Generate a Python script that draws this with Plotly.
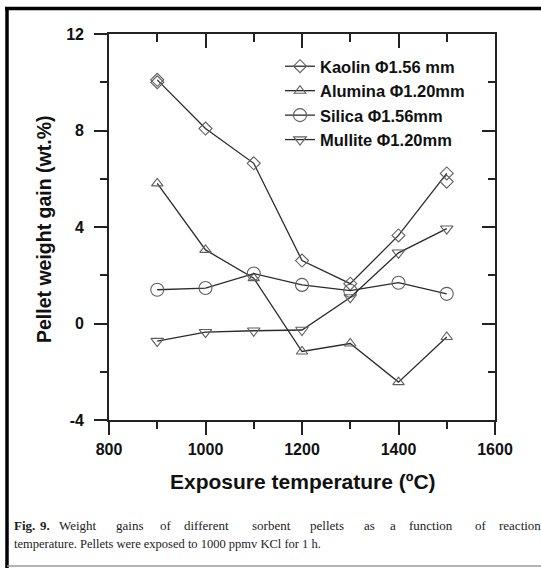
import plotly.graph_objects as go

# ---- data ----
temps = [900, 1000, 1100, 1200, 1300, 1400, 1500]
kaolin = [10.10, 8.08, 6.64, 2.61, 1.65, 3.65, 6.22]
kaolin_rep_t = [900, 1500]
kaolin_rep = [10.0, 5.88]
alumina = [5.81, 3.05, 1.88, -1.16, -0.83, -2.43, -0.56]
silica = [1.40, 1.47, 2.07, 1.60, 1.36, 1.69, 1.23]
mullite = [-0.73, -0.36, -0.30, -0.27, 1.08, 2.93, 3.93]

names = ["Kaolin \u03a61.56 mm", "Alumina \u03a61.20mm", "Silica \u03a61.56mm", "Mullite \u03a61.20mm"]
symbols = ["diamond-open", "triangle-up-open", "circle-open", "triangle-down-open"]
msizes = [10, 10, 13, 11]
series = [kaolin, alumina, silica, mullite]

x_ticks = [800, 1000, 1200, 1400, 1600]
y_ticks = [-4, 0, 4, 8, 12]

caption_line1 = ["Fig.", "9.", "Weight", "gains", "of", "different", "sorbent",
                 "pellets", "as", "a", "function", "of", "reaction"]
caption_line2 = "temperature. Pellets were exposed to 1000 ppmv KCl for 1 h."

# ---- geometry (pixels) ----
W, H = 541, 568
L, R, T, B = 109, 495, 34, 420

def px_x(p):
    return (p - L) / (R - L)

def px_y(p):
    return (B - p) / (B - T)

FONT = "Liberation Sans, Arial, sans-serif"
SERIF = "Liberation Serif, Times New Roman, serif"
LINEC = "#2b2b2b"
MARKC = "#5f5f5f"

fig = go.Figure()
for nm, sy, ms, vals in zip(names, symbols, msizes, series):
    fig.add_trace(go.Scatter(
        x=temps, y=vals, name=nm, mode="lines+markers",
        line=dict(color=LINEC, width=1.3),
        marker=dict(symbol=sy, size=ms, color=MARKC, line=dict(width=1.1, color=MARKC)),
    ))

# repeated kaolin measurements (on the mirrored axes so they get drawn)
fig.add_trace(go.Scatter(
    x=kaolin_rep_t, y=kaolin_rep, mode="markers", showlegend=False,
    xaxis="x2", yaxis="y2", hoverinfo="skip",
    marker=dict(symbol="diamond-open", size=10, color=MARKC, line=dict(width=1.1, color=MARKC)),
))

axis_common = dict(showgrid=False, zeroline=False, showline=True,
                   linecolor="#222", linewidth=1.6, tickcolor="#222", tickwidth=1.6)

fig.update_layout(
    width=W, height=H,
    margin=dict(l=L, r=W - R, t=T, b=H - B, pad=0),
    paper_bgcolor="white", plot_bgcolor="white",
    showlegend=True,
    legend=dict(x=px_x(280), y=px_y(49), xanchor="left", yanchor="top",
                bgcolor="rgba(0,0,0,0)", borderwidth=0,
                font=dict(family=FONT, size=16.5, color="#111", weight="bold"),
                tracegroupgap=0, itemwidth=30),
    xaxis=dict(range=[800, 1600], tickvals=x_ticks, ticktext=[str(v) for v in x_ticks],
               ticks="outside", ticklen=13, ticklabelstandoff=1,
               minor=dict(dtick=100, tick0=800, ticks="outside", ticklen=7,
                          tickwidth=1.6, tickcolor="#222"),
               tickfont=dict(family=FONT, size=16, color="#111", weight="bold"),
               **axis_common),
    yaxis=dict(range=[-4, 12], tickvals=y_ticks, ticktext=[str(v) for v in y_ticks],
               ticks="outside", ticklen=13, ticklabelstandoff=7,
               minor=dict(dtick=2, tick0=-4, ticks="outside", ticklen=7,
                          tickwidth=1.6, tickcolor="#222"),
               tickfont=dict(family=FONT, size=16, color="#111", weight="bold"),
               **axis_common),
    xaxis2=dict(range=[800, 1600], overlaying="x", side="top", tickvals=x_ticks,
                ticks="inside", ticklen=14, showticklabels=False,
                minor=dict(dtick=100, tick0=800, ticks="inside", ticklen=8,
                           tickwidth=1.6, tickcolor="#222"),
                **axis_common),
    yaxis2=dict(range=[-4, 12], overlaying="y", side="right", tickvals=y_ticks,
                ticks="inside", ticklen=13, showticklabels=False,
                minor=dict(dtick=2, tick0=-4, ticks="inside", ticklen=7,
                           tickwidth=1.6, tickcolor="#222"),
                **axis_common),
)

annotations = [
    dict(text="Exposure temperature (\u00baC)", x=px_x(303), y=px_y(482),
         xref="paper", yref="paper", showarrow=False, xanchor="center", yanchor="middle",
         font=dict(family=FONT, size=21, color="#111", weight="bold")),
    dict(text="Pellet weight gain (wt.%)", x=px_x(44), y=px_y(229), textangle=-90,
         xref="paper", yref="paper", showarrow=False, xanchor="center", yanchor="middle",
         font=dict(family=FONT, size=19.5, color="#111", weight="bold")),
]

word_x = [12, 38, 57, 114, 158, 182, 250, 308, 362, 388, 407, 473, 497]
for i, (w, xp) in enumerate(zip(caption_line1, word_x)):
    annotations.append(dict(
        text=("<b>%s</b>" % w) if i < 2 else w,
        x=px_x(xp), y=px_y(525), xref="paper", yref="paper", showarrow=False,
        xanchor="left", yanchor="middle",
        font=dict(family=SERIF, size=13, color="#222")))
annotations.append(dict(
    text=caption_line2, x=px_x(12), y=px_y(543.5), xref="paper", yref="paper",
    showarrow=False, xanchor="left", yanchor="middle",
    font=dict(family=SERIF, size=12.5, color="#222")))
fig.update_layout(annotations=annotations)

# outer frame of the figure panel
shapes = [
    dict(type="line", xref="paper", yref="paper", x0=px_x(5), x1=px_x(541),
         y0=px_y(8.5), y1=px_y(8.5), line=dict(color="black", width=3.5)),
    dict(type="line", xref="paper", yref="paper", x0=px_x(7), x1=px_x(7),
         y0=px_y(7), y1=px_y(568), line=dict(color="black", width=3.5)),
    dict(type="line", xref="paper", yref="paper", x0=px_x(7), x1=px_x(541),
         y0=px_y(566), y1=px_y(566), line=dict(color="#9a9a9a", width=1.5)),
]
fig.update_layout(shapes=shapes)

fig.write_html("out.html")
